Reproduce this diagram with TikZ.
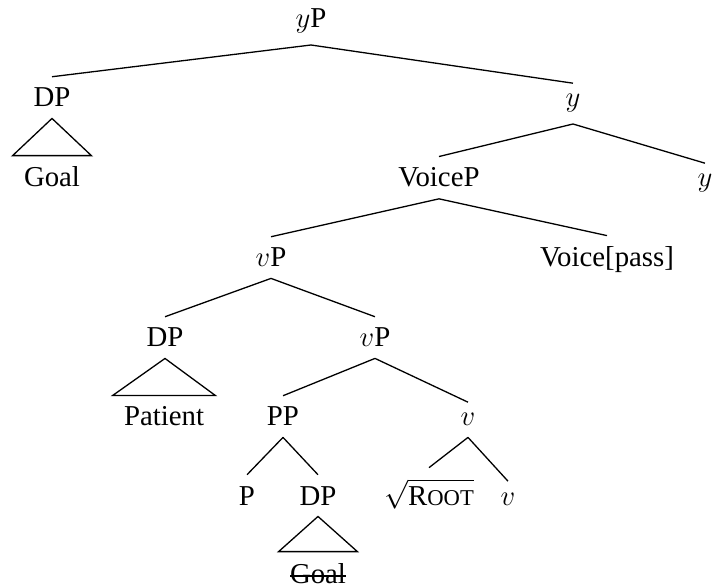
\documentclass[tikz,border=0pt]{standalone}
\usepackage{fontspec}
\setmainfont{Liberation Serif}
% a word with a line struck through it
\newcommand\strucktext[1]{\setbox0\hbox{#1}\rlap{\raise 0.22em\hbox{\rule{\wd0}{0.65pt}}}\box0}
\begin{document}
\begin{tikzpicture}[x=0.5pt,y=-0.5pt,
  lbl/.style={anchor=base, inner xsep=5.5pt, inner ysep=5.5pt,
              font=\fontsize{14.4}{17}\selectfont},
  branch/.style={line width=0.65pt},
  roof/.style={line width=0.65pt, line join=miter}]
\useasboundingbox (0,0) rectangle (713,588);

% labels, placed on their baselines
\node[lbl] (yP)      at (311,28)  {$y$P};
\node[lbl] (dp1)     at (52,107)  {DP};
\node[lbl] (goal1)   at (52,187)  {Goal};
\node[lbl] (y1)      at (573,107) {$y$};
\node[lbl] (voiceP)  at (439,187) {VoiceP};
\node[lbl] (y2)      at (705,187) {$y$};
\node[lbl] (vP1)     at (271,267) {$v$P};
\node[lbl] (voice)   at (607,267) {Voice[pass]};
\node[lbl] (dp2)     at (165,347) {DP};
\node[lbl] (patient) at (164,426) {Patient};
\node[lbl] (vP2)     at (375,347) {$v$P};
\node[lbl] (pp)      at (283,426) {PP};
\node[lbl] (v1)      at (468,426) {$v$};
\node[lbl] (p)       at (247,505) {P};
\node[lbl] (dp3)     at (318,505) {DP};
\node[lbl] (goal2)   at (318,583) {\strucktext{Goal}};
\node[lbl] (root)    at (429,505) {$\sqrt{\mbox{R\fontsize{11.3}{13}\selectfont OOT}}$};
\node[lbl] (v2)      at (508,505) {$v$};

% branches
\draw[branch] (yP.south) -- (dp1.north);
\draw[branch] (yP.south) -- (y1.north);
\draw[branch] (y1.south) -- (voiceP.north);
\draw[branch] (y1.south) -- (y2.north);
\draw[branch] (voiceP.south) -- (vP1.north);
\draw[branch] (voiceP.south) -- (voice.north);
\draw[branch] (vP1.south) -- (dp2.north);
\draw[branch] (vP1.south) -- (vP2.north);
\draw[branch] (vP2.south) -- (pp.north);
\draw[branch] (vP2.south) -- (v1.north);
\draw[branch] (pp.south) -- (p.north);
\draw[branch] (pp.south) -- (dp3.north);
\draw[branch] (v1.south) -- (root.north);
\draw[branch] (v1.south) -- (v2.north);

% triangles over unanalysed phrases
\draw[roof] (dp1.south) -- (goal1.north west) -- (goal1.north east) -- cycle;
\draw[roof] (dp2.south) -- (patient.north west) -- (patient.north east) -- cycle;
\draw[roof] (dp3.south) -- (goal2.north west) -- (goal2.north east) -- cycle;
\end{tikzpicture}
\end{document}
